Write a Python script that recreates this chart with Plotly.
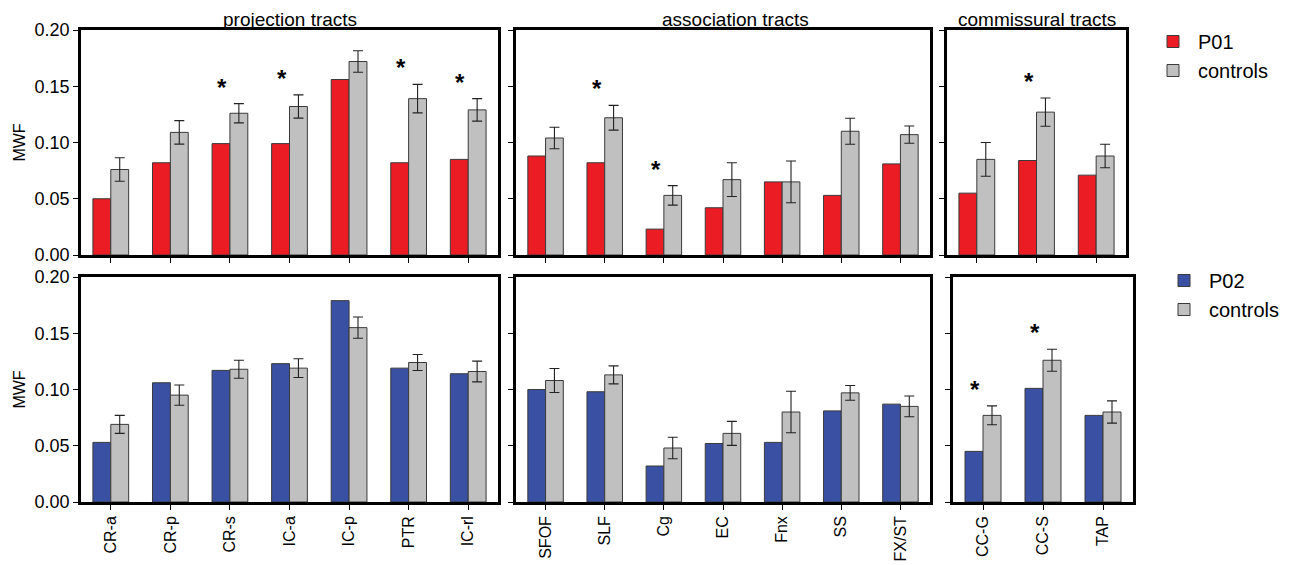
import plotly.graph_objects as go

# ---------------- data ----------------
proj = ["CR-a", "CR-p", "CR-s", "IC-a", "IC-p", "PTR", "IC-rl"]
assoc = ["SFOF", "SLF", "Cg", "EC", "Fnx", "SS", "FX/ST"]
comm = ["CC-G", "CC-S", "TAP"]

# P01 row
p01_proj = [0.050, 0.082, 0.099, 0.099, 0.156, 0.082, 0.085]
ctl1_proj = [0.076, 0.109, 0.126, 0.132, 0.172, 0.139, 0.129]
err1_proj = [0.0105, 0.0104, 0.0086, 0.0103, 0.0095, 0.0127, 0.0100]
sig1_proj = [False, False, True, True, False, True, True]

p01_assoc = [0.088, 0.082, 0.023, 0.042, 0.065, 0.053, 0.081]
ctl1_assoc = [0.104, 0.122, 0.053, 0.067, 0.065, 0.110, 0.107]
err1_assoc = [0.0095, 0.0110, 0.0087, 0.0150, 0.0185, 0.0116, 0.0077]
sig1_assoc = [False, True, True, False, False, False, False]

p01_comm = [0.055, 0.084, 0.071]
ctl1_comm = [0.085, 0.127, 0.088]
err1_comm = [0.0150, 0.0126, 0.0105]
sig1_comm = [False, True, False]

# P02 row
p02_proj = [0.053, 0.106, 0.117, 0.123, 0.179, 0.119, 0.114]
ctl2_proj = [0.069, 0.095, 0.118, 0.119, 0.155, 0.124, 0.116]
err2_proj = [0.0080, 0.0090, 0.0080, 0.0083, 0.0095, 0.0071, 0.0092]
sig2_proj = [False] * 7

p02_assoc = [0.100, 0.098, 0.032, 0.052, 0.053, 0.081, 0.087]
ctl2_assoc = [0.108, 0.113, 0.048, 0.061, 0.080, 0.097, 0.085]
err2_assoc = [0.0107, 0.0080, 0.0095, 0.0107, 0.0184, 0.0065, 0.0092]
sig2_assoc = [False] * 7

p02_comm = [0.045, 0.101, 0.077]
ctl2_comm = [0.077, 0.126, 0.080]
err2_comm = [0.0084, 0.0098, 0.0099]
sig2_comm = [True, True, False]

y_ticks = [0.00, 0.05, 0.10, 0.15, 0.20]
group_titles = ["projection tracts", "association tracts", "commissural tracts"]

# ---------------- style ----------------
OFF = 8                      # default body margin of the html page
W, H = 1292 - OFF, 565 - OFF
FONT = "Liberation Sans, Arial, sans-serif"
RED = "#EC1C24"
BLUE = "#3A51A3"
GRAY = "#C0C0C0"
EDGE = "#3a3a3a"

def px_x(a, b):
    return [(a - OFF) / W, (b - OFF) / W]

def px_y(top, bottom):
    return [1 - (bottom - OFF) / H, 1 - (top - OFF) / H]

def fx(a):
    return (a - OFF) / W

def fy(t):
    return 1 - (t - OFF) / H

col_x_top = [px_x(81, 498), px_x(516, 930), px_x(947, 1126)]
col_x_bot = [px_x(81, 498), px_x(516, 930), px_x(953, 1133)]
row_y = [px_y(30, 255), px_y(277, 502)]
title_x = [290, 735, 1037]

panels = [
    (0, 0, proj, p01_proj, ctl1_proj, err1_proj, sig1_proj, "P01", RED),
    (0, 1, assoc, p01_assoc, ctl1_assoc, err1_assoc, sig1_assoc, "P01", RED),
    (0, 2, comm, p01_comm, ctl1_comm, err1_comm, sig1_comm, "P01", RED),
    (1, 0, proj, p02_proj, ctl2_proj, err2_proj, sig2_proj, "P02", BLUE),
    (1, 1, assoc, p02_assoc, ctl2_assoc, err2_assoc, sig2_assoc, "P02", BLUE),
    (1, 2, comm, p02_comm, ctl2_comm, err2_comm, sig2_comm, "P02", BLUE),
]

fig = go.Figure()
annotations = []
layout_axes = {}

for i, (row, col, cats, pat, ctl, err, sig, pname, pcol) in enumerate(panels):
    n = i + 1
    xa = "x" if n == 1 else f"x{n}"
    ya = "y" if n == 1 else f"y{n}"
    legend_name = "legend" if row == 0 else "legend2"
    show_leg = col == 0
    fig.add_trace(go.Bar(
        x=cats, y=pat, name=pname, xaxis=xa, yaxis=ya,
        marker=dict(color=pcol, line=dict(color=EDGE, width=1)),
        offsetgroup="a", showlegend=show_leg, legend=legend_name,
    ))
    fig.add_trace(go.Bar(
        x=cats, y=ctl, name="controls", xaxis=xa, yaxis=ya,
        marker=dict(color=GRAY, line=dict(color=EDGE, width=1)),
        error_y=dict(type="data", array=err, color="#222222", thickness=1.1, width=5),
        offsetgroup="b", showlegend=show_leg, legend=legend_name,
    ))
    dom_x = (col_x_top if row == 0 else col_x_bot)[col]
    axis_common = dict(showline=True, linecolor="black", linewidth=2.5, mirror=True,
                       ticks="outside", ticklen=5, tickcolor="black", tickwidth=1,
                       showgrid=False, zeroline=False, automargin=False)
    layout_axes["xaxis" if n == 1 else f"xaxis{n}"] = dict(
        domain=dom_x, anchor=ya, type="category", range=[-0.5, len(cats) - 0.5],
        showticklabels=(row == 1), tickangle=-90,
        tickfont=dict(family=FONT, size=16, color="black"), **axis_common)
    layout_axes["yaxis" if n == 1 else f"yaxis{n}"] = dict(
        domain=row_y[row], anchor=xa, range=[0, 0.2], tickvals=y_ticks,
        tickformat=".2f", showticklabels=(col == 0),
        tickfont=dict(family=FONT, size=18, color="black"),
        title=dict(text="MWF", font=dict(family=FONT, size=16, color="black"), standoff=6) if col == 0 else None,
        **axis_common)
    for c, v, e, s in zip(cats, ctl, err, sig):
        if s:
            annotations.append(dict(
                x=c, y=v + e, xref=xa, yref=ya, text="<b>*</b>", showarrow=False,
                xshift=-8, yshift=1, yanchor="bottom",
                font=dict(family=FONT, size=24, color="black")))

for col, title in enumerate(group_titles):
    annotations.append(dict(
        x=fx(title_x[col]), y=fy(19), xref="paper", yref="paper",
        text=title, showarrow=False, xanchor="center", yanchor="middle",
        font=dict(family=FONT, size=19, color="black")))

fig.update_layout(
    width=W, height=H,
    margin=dict(l=0, r=0, t=0, b=0, autoexpand=False),
    paper_bgcolor="white", plot_bgcolor="white",
    barmode="group", bargap=0.4, bargroupgap=0,
    font=dict(family=FONT, color="black"),
    annotations=annotations,
    legend=dict(x=fx(1148), y=fy(22), xanchor="left", yanchor="top",
                font=dict(family=FONT, size=20, color="black"),
                bgcolor="rgba(0,0,0,0)", tracegroupgap=0, itemwidth=40),
    legend2=dict(x=fx(1159), y=fy(261), xanchor="left", yanchor="top",
                 font=dict(family=FONT, size=20, color="black"),
                 bgcolor="rgba(0,0,0,0)", tracegroupgap=0, itemwidth=40),
    **layout_axes,
)

fig.write_html("out.html")
